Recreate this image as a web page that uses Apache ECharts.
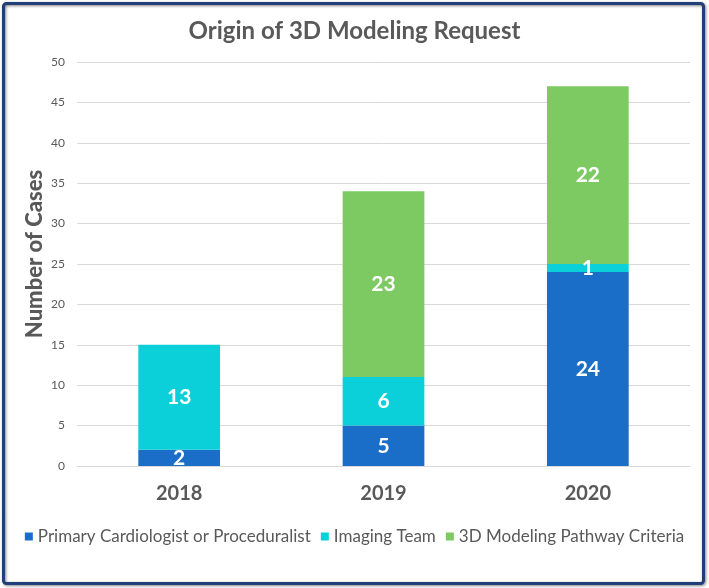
<!DOCTYPE html>
<html><head><meta charset="utf-8">
<script src="https://cdn.jsdelivr.net/npm/echarts@6/dist/echarts.min.js"></script>
<style>html,body{margin:0;padding:0;background:#fff}#c{width:709px;height:588px}</style>
</head><body><div id="c"></div>
<script>
const categories = ['2018', '2019', '2020'];
const primary = [2, 5, 24];
const imaging = [13, 6, 1];
const pathway = [null, 23, 22];
const seriesNames = ['Primary Cardiologist or Proceduralist', 'Imaging Team', '3D Modeling Pathway Criteria'];
const yTicks = [0, 5, 10, 15, 20, 25, 30, 35, 40, 45, 50];

const FONT = 'Lato, sans-serif';
const chart = echarts.init(document.getElementById('c'), null, {renderer: 'canvas'});
const lbl = {show: true, color: '#ffffff', fontWeight: 'bold', fontSize: 21, fontFamily: FONT,
  formatter: p => (p.value == null || p.value === 0) ? '' : p.value};
function mk(name, data, color) {
  return {name, type: 'bar', stack: 'a', data, barWidth: '40%', itemStyle: {color}, label: lbl};
}
chart.setOption({
  animation: false,
  title: {text: 'Origin of 3D Modeling Request', left: 'center', top: 14,
    textStyle: {fontFamily: FONT, fontSize: 24, fontWeight: 'bold', color: '#595959'}},
  graphic: [{type: 'rect', shape: {x: 3.5, y: 3.5, width: 700, height: 580, r: 3},
    style: {fill: 'none', stroke: '#203F78', lineWidth: 3, shadowBlur: 3, shadowColor: 'rgba(0,0,0,0.5)', shadowOffsetX: 1, shadowOffsetY: 1}}],
  grid: {left: 77, right: 19, top: 62, bottom: 122},
  legend: {bottom: 38, left: 'center', itemWidth: 8, itemHeight: 8, itemGap: 10,
    icon: 'rect', textStyle: {fontFamily: FONT, fontSize: 17, color: '#595959'}, data: seriesNames},
  xAxis: {type: 'category', data: categories, axisTick: {show: false},
    axisLine: {lineStyle: {color: '#d9d9d9'}},
    axisLabel: {fontFamily: FONT, fontSize: 20, fontWeight: 'bold', color: '#595959', margin: 18}},
  yAxis: {type: 'value', min: yTicks[0], max: yTicks[yTicks.length - 1], interval: 5,
    name: 'Number of Cases', nameLocation: 'middle', nameGap: 31, nameRotate: 90, nameMoveOverlap: false,
    nameTextStyle: {fontFamily: FONT, fontSize: 22, fontWeight: 900, color: '#595959', padding: [0, 0, 0, 20]},
    axisLabel: {fontFamily: FONT, fontSize: 12, color: '#595959', margin: 12},
    splitLine: {lineStyle: {color: '#d9d9d9'}}},
  series: [mk(seriesNames[0], primary, '#1B6EC8'), mk(seriesNames[1], imaging, '#0CD0D9'), mk(seriesNames[2], pathway, '#7DCA62')]
});
</script></body></html>
